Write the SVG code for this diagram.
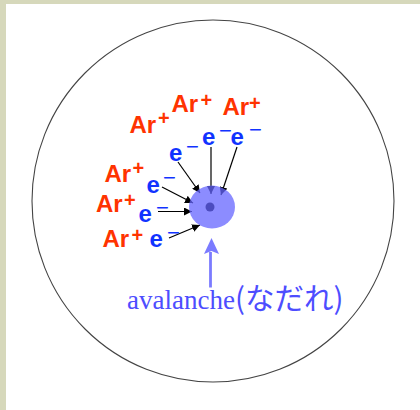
<svg xmlns="http://www.w3.org/2000/svg" width="420" height="410" viewBox="0 0 420 410">
<defs>
<style>
.ar{font-family:"Liberation Sans",Arial,sans-serif;font-weight:bold;font-size:24px;fill:#ff3300}
.el{font-family:"Liberation Sans",Arial,sans-serif;font-weight:bold;font-size:24px;fill:#1133ff}
.sup{font-weight:bold;font-size:20px}
.min{font-weight:normal;font-size:22px}
.conn{stroke:#000;stroke-width:1.2;fill:none;marker-end:url(#ah)}
.cap{font-family:"Liberation Serif","Noto Sans CJK JP",serif;font-size:27px;fill:#4d4dff}
.jp{font-family:"Noto Sans CJK JP",sans-serif;font-size:29.5px}
</style>
<marker id="ah" markerWidth="8" markerHeight="8" viewBox="0 0 8 8" refX="8" refY="4" orient="auto" markerUnits="userSpaceOnUse">
<path d="M0,0 L8,4 L0,8 Z" fill="#000"/>
</marker>
</defs>
<rect x="0" y="0" width="420" height="410" fill="#d6d8bb"/>
<rect x="6" y="4" width="414" height="406" fill="#fff"/>
<g id="chamber">
<circle cx="213" cy="201" r="181" fill="none" stroke="#444" stroke-width="1.1"/>
</g>
<g id="connectors">
<line class="conn" x1="178" y1="162" x2="200" y2="193"/>
<line class="conn" x1="211" y1="147" x2="211" y2="194"/>
<line class="conn" x1="237" y1="147" x2="221" y2="195"/>
<line class="conn" x1="162" y1="187" x2="193" y2="203"/>
<line class="conn" x1="158" y1="211.5" x2="192" y2="211.5"/>
<line class="conn" x1="169" y1="238" x2="200" y2="225"/>
</g>
<g id="avalanche">
<circle cx="210" cy="207" r="4.5" fill="#000"/>
<ellipse cx="212" cy="207" rx="23" ry="21.5" fill="#6666ff" fill-opacity="0.75"/>
</g>
<g id="ions">
<text class="ar" x="129.5" y="132.5">Ar<tspan class="sup" x="158" y="125">+</tspan></text>
<text class="ar" x="171.5" y="111.5">Ar<tspan class="sup" x="200.5" y="107">+</tspan></text>
<text class="ar" x="222.5" y="115">Ar<tspan class="sup" x="249" y="110">+</tspan></text>
<text class="ar" x="104.5" y="181.5">Ar<tspan class="sup" x="132.5" y="175">+</tspan></text>
<text class="ar" x="96" y="211.5">Ar<tspan class="sup" x="124" y="207">+</tspan></text>
<text class="ar" x="102.5" y="246.5">Ar<tspan class="sup" x="131.5" y="242">+</tspan></text>
</g>
<g id="electrons">
<text class="el" x="169" y="161">e<tspan class="min" x="186" y="154">−</tspan></text>
<text class="el" x="202" y="145">e<tspan class="min" x="219" y="138">−</tspan></text>
<text class="el" x="230.5" y="145">e<tspan class="min" x="249" y="137.3">−</tspan></text>
<text class="el" x="146.5" y="193">e<tspan class="min" x="163" y="185.3">−</tspan></text>
<text class="el" x="138.5" y="221.5">e<tspan class="min" x="156" y="215">−</tspan></text>
<text class="el" x="149.5" y="246.5">e<tspan class="min" x="167" y="240.3">−</tspan></text>
</g>
<g id="label">
<line x1="210.5" y1="287.5" x2="210.5" y2="252" stroke="#7b7bff" stroke-width="2.8"/>
<path d="M211.5,238 L219,254 L211.5,251 L204,254 Z" fill="#7b7bff"/>
<text class="cap" x="127" y="309">avalanche<tspan class="jp">(なだれ)</tspan></text>
</g>
</svg>
